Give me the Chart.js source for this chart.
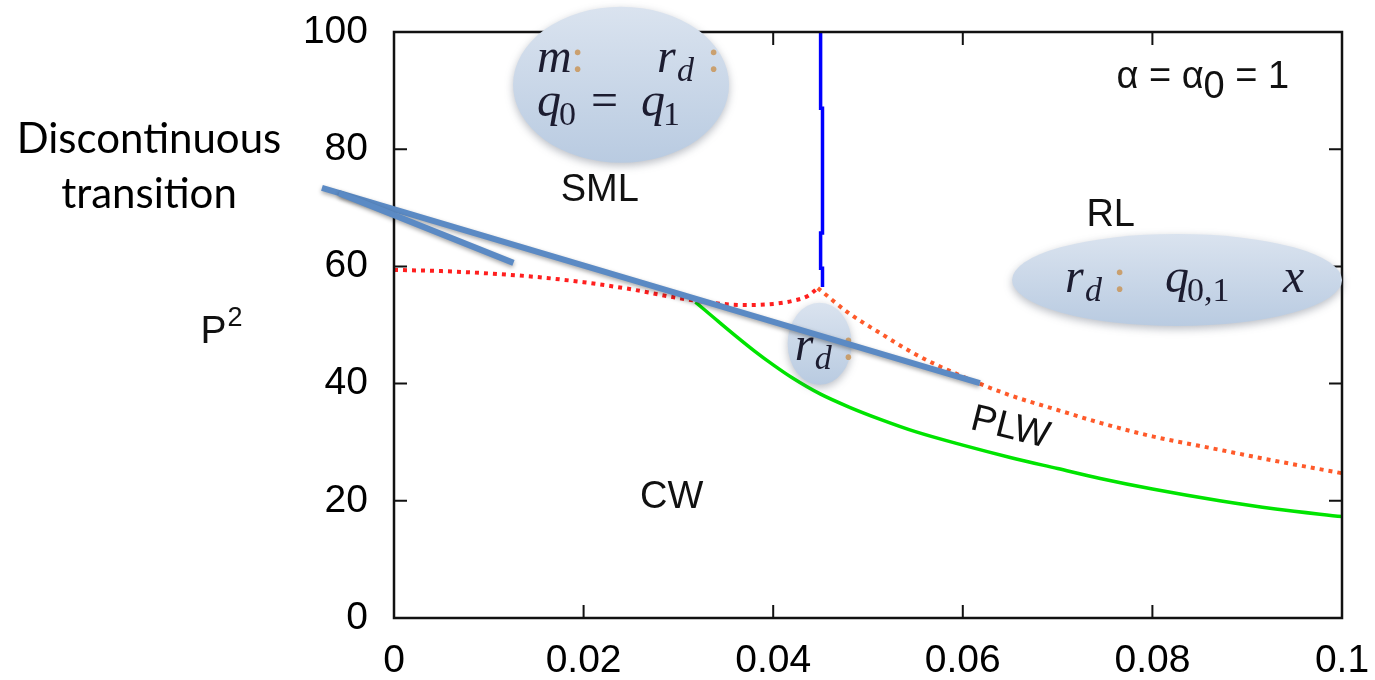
<!DOCTYPE html>
<html>
<head>
<meta charset="utf-8">
<script src="https://cdn.jsdelivr.net/npm/chart.js@4.4.1/dist/chart.umd.min.js"></script>
<style>
  html, body { margin: 0; padding: 0; background: #fff; }
</style>
</head>
<body>
<canvas id="chart" width="1375" height="680"></canvas>
<script>
// axes
const xTicks = [0, 0.02, 0.04, 0.06, 0.08, 0.1];
const yTicks = [0, 20, 40, 60, 80, 100];

// SML -> CW boundary (red dotted)
const smlX = [0, 0.005, 0.01, 0.015, 0.02, 0.025, 0.03, 0.034, 0.037, 0.04, 0.042, 0.0437, 0.0447];
const smlY = [59.4, 59.2, 58.8, 58.2, 57.3, 56.1, 54.6, 53.7, 53.4, 53.6, 54.1, 55.0, 56.3];

// RL boundary (orange dotted)
const rlX = [0.0447, 0.048, 0.0513, 0.055, 0.06, 0.065, 0.07, 0.0745, 0.08, 0.0871, 0.093, 0.1];
const rlY = [56.3, 52.0, 48.6, 45.0, 41.2, 38.0, 35.5, 33.3, 31.0, 28.7, 26.8, 24.7];

// CW / PLW boundary (green)
const cwX = [0.0318, 0.034, 0.036, 0.038, 0.04, 0.042, 0.045, 0.048, 0.0513, 0.055, 0.06, 0.065, 0.07, 0.0745, 0.08, 0.0871, 0.093, 0.1];
const cwY = [53.9, 50.9, 48.2, 45.6, 43.2, 41.0, 38.2, 36.0, 33.9, 31.8, 29.5, 27.4, 25.5, 23.8, 22.0, 20.0, 18.6, 17.3];

// SML / RL boundary (blue)
const mlX = [0.0450, 0.0450, 0.0452, 0.0452, 0.0450, 0.0450, 0.0452, 0.0452];
const mlY = [100, 87, 87, 65.7, 65.7, 59.7, 59.7, 56.5];

function pts(xs, ys) {
  return xs.map((x, i) => ({ x: x, y: ys[i] }));
}

const tickFont = { family: 'Liberation Sans', size: 39 };

// --- annotations (in axis units) ---
const regionLabels = [
  { text: 'SML', x: 0.0217, y: 73.0 },
  { text: 'CW', x: 0.0293, y: 20.5 },
  { text: 'RL', x: 0.0756, y: 68.6 }
];

const bubbles = [
  { x: 0.02395, y: 91.0, rx: 108, ry: 78, lines: [
    { dy: -13, parts: [['m', -84, 'it'], [':', -50, 'fade'], ['r', 36, 'it'], ['d', 56, 'itsub'], [':', 86, 'fade']] },
    { dy: 31, parts: [['q', -84, 'it'], ['0', -62, 'sub'], ['=', -30, ''], ['q', 20, 'it'], ['1', 42, 'sub']] }
  ] },
  { x: 0.0826, y: 57.7, rx: 165, ry: 46, lines: [
    { dy: 12, parts: [['r', -112, 'it'], ['d', -92, 'itsub'], [':', -64, 'fade'], ['q', -12, 'it'], ['0,1', 10, 'sub'], ['x', 106, 'it']] }
  ] },
  { x: 0.0449, y: 46.8, rx: 32, ry: 41, lines: [
    { dy: 16, parts: [['r', -25, 'it'], ['d', -5, 'itsub'], [':', 22, 'fade']] }
  ] }
];

const arrows = [
  { x0: -0.0076, y0: 73.4, x1: 0.0618, y1: 40.1 },
  { x0: -0.0058, y0: 72.5, x1: 0.0126, y1: 60.6 }
];

function drawMath(ctx, cx, cy, line) {
  line.parts.forEach(p => {
    const kind = p[2];
    const sub = kind.indexOf('sub') >= 0;
    const size = sub ? 34 : 48;
    ctx.font = (kind.indexOf('it') === 0 ? 'italic ' : '') + size + 'px "Liberation Serif"';
    ctx.fillStyle = kind === 'fade' ? 'rgba(200,140,70,0.75)' : '#1c1c30';
    ctx.textAlign = 'left';
    ctx.textBaseline = 'alphabetic';
    ctx.fillText(p[0], cx + p[1], cy + line.dy + (sub ? 9 : 0));
  });
}

function drawBubble(ctx, cx, cy, b) {
  ctx.save();
  ctx.shadowColor = 'rgba(60,70,90,0.35)';
  ctx.shadowBlur = 8;
  ctx.shadowOffsetY = 3;
  const g = ctx.createLinearGradient(0, cy - b.ry, 0, cy + b.ry);
  g.addColorStop(0, '#dae3ef');
  g.addColorStop(1, '#b9cbe1');
  ctx.fillStyle = g;
  ctx.beginPath();
  ctx.ellipse(cx, cy, b.rx, b.ry, 0, 0, Math.PI * 2);
  ctx.fill();
  ctx.restore();
  ctx.save();
  b.lines.forEach(l => drawMath(ctx, cx, cy, l));
  ctx.restore();
}

const framePlugin = {
  id: 'frame',
  afterDatasetsDraw(chart) {
    const { ctx, chartArea: a, scales: { x, y } } = chart;
    ctx.save();
    ctx.strokeStyle = '#111';
    ctx.lineWidth = 2.5;
    ctx.strokeRect(a.left, a.top, a.right - a.left, a.bottom - a.top);
    ctx.lineWidth = 2;
    ctx.beginPath();
    xTicks.slice(1, -1).forEach(v => {
      const px = x.getPixelForValue(v);
      ctx.moveTo(px, a.bottom); ctx.lineTo(px, a.bottom - 13);
      ctx.moveTo(px, a.top); ctx.lineTo(px, a.top + 13);
    });
    yTicks.slice(1, -1).forEach(v => {
      const py = y.getPixelForValue(v);
      ctx.moveTo(a.left, py); ctx.lineTo(a.left + 13, py);
      ctx.moveTo(a.right, py); ctx.lineTo(a.right - 13, py);
    });
    ctx.stroke();
    ctx.restore();
  }
};

const notesPlugin = {
  id: 'notes',
  afterDraw(chart) {
    const { ctx, scales: { x, y } } = chart;
    ctx.save();
    ctx.fillStyle = '#111';
    ctx.textAlign = 'center';
    ctx.textBaseline = 'middle';
    ctx.font = '38px "Liberation Sans"';
    regionLabels.forEach(l => {
      ctx.fillText(l.text, x.getPixelForValue(l.x), y.getPixelForValue(l.y));
    });

    // PLW, tilted along the curve
    ctx.save();
    ctx.translate(x.getPixelForValue(0.065), y.getPixelForValue(32.4));
    ctx.rotate(14 * Math.PI / 180);
    ctx.fillText('PLW', 0, 0);
    ctx.restore();

    // alpha = alpha_0 = 1
    ctx.textAlign = 'left';
    ctx.textBaseline = 'alphabetic';
    ctx.font = '38px "Liberation Sans"';
    let ax = x.getPixelForValue(0.0762);
    const ab = y.getPixelForValue(90.4);
    ctx.fillText('\u03b1 = \u03b1', ax, ab);
    ax += ctx.measureText('\u03b1 = \u03b1').width;
    ctx.fillText('0', ax, ab + 10);
    ax += ctx.measureText('0').width;
    ctx.fillText(' = 1', ax, ab);

    // P^2 axis title
    const px = x.getPixelForValue(-0.0204);
    const pb = y.getPixelForValue(47);
    ctx.font = '39px "Liberation Sans"';
    ctx.fillText('P', px, pb);
    const pw = ctx.measureText('P').width;
    ctx.font = '27px "Liberation Sans"';
    ctx.fillText('2', px + pw + 1, pb - 17);
    ctx.restore();

    bubbles.forEach(b => drawBubble(ctx, x.getPixelForValue(b.x), y.getPixelForValue(b.y), b));

    ctx.save();
    ctx.strokeStyle = '#5b8ac4';
    ctx.lineWidth = 6;
    ctx.shadowColor = 'rgba(0,0,0,0.35)';
    ctx.shadowBlur = 4;
    ctx.shadowOffsetY = 2;
    arrows.forEach(r => {
      ctx.beginPath();
      ctx.moveTo(x.getPixelForValue(r.x0), y.getPixelForValue(r.y0));
      ctx.lineTo(x.getPixelForValue(r.x1), y.getPixelForValue(r.y1));
      ctx.stroke();
    });
    ctx.restore();

    ctx.save();
    ctx.fillStyle = '#000';
    ctx.textAlign = 'center';
    ctx.textBaseline = 'alphabetic';
    ctx.font = '42px Lato';
    ctx.fillText('Discontinuous', 149, 153);
    ctx.fillText('transition', 149, 208);
    ctx.restore();
  }
};

const ctx = document.getElementById('chart');

new Chart(ctx, {
  type: 'scatter',
  data: {
    datasets: [
      {
        label: 'SML-RL',
        data: pts(mlX, mlY),
        showLine: true,
        borderColor: '#0000ff',
        borderWidth: 3.5,
        pointRadius: 0,
        tension: 0
      },
      {
        label: 'SML-CW',
        data: pts(smlX, smlY),
        showLine: true,
        borderColor: '#ff1f1f',
        borderWidth: 4,
        borderDash: [4, 5],
        pointRadius: 0,
        cubicInterpolationMode: 'monotone'
      },
      {
        label: 'RL',
        data: pts(rlX, rlY),
        showLine: true,
        borderColor: '#ff5a2a',
        borderWidth: 4,
        borderDash: [4, 5],
        pointRadius: 0,
        cubicInterpolationMode: 'monotone'
      },
      {
        label: 'CW-PLW',
        data: pts(cwX, cwY),
        showLine: true,
        borderColor: '#00e400',
        borderWidth: 3.5,
        pointRadius: 0,
        cubicInterpolationMode: 'monotone'
      }
    ]
  },
  options: {
    responsive: false,
    animation: false,
    layout: { padding: { top: 32, right: 33, left: 0, bottom: 0 } },
    plugins: {
      legend: { display: false },
      tooltip: { enabled: false }
    },
    scales: {
      x: {
        type: 'linear',
        min: 0,
        max: 0.1,
        afterBuildTicks: s => { s.ticks = xTicks.map(v => ({ value: v })); },
        afterFit: s => { s.height = 62; s.paddingLeft = 0; s.paddingRight = 0; },
        grid: { display: false, drawTicks: false },
        border: { display: false },
        ticks: {
          padding: 20,
          color: '#000',
          font: tickFont,
          maxRotation: 0,
          autoSkip: false,
          callback: v => String(v)
        }
      },
      y: {
        min: 0,
        max: 100,
        afterBuildTicks: s => { s.ticks = yTicks.map(v => ({ value: v })); },
        afterFit: s => { s.width = 394; s.paddingTop = 0; s.paddingBottom = 0; },
        grid: { display: false, drawTicks: false },
        border: { display: false },
        ticks: {
          padding: 26,
          color: '#000',
          font: tickFont,
          autoSkip: false,
          callback: v => String(v)
        }
      }
    }
  },
  plugins: [framePlugin, notesPlugin]
});
</script>
</body>
</html>
